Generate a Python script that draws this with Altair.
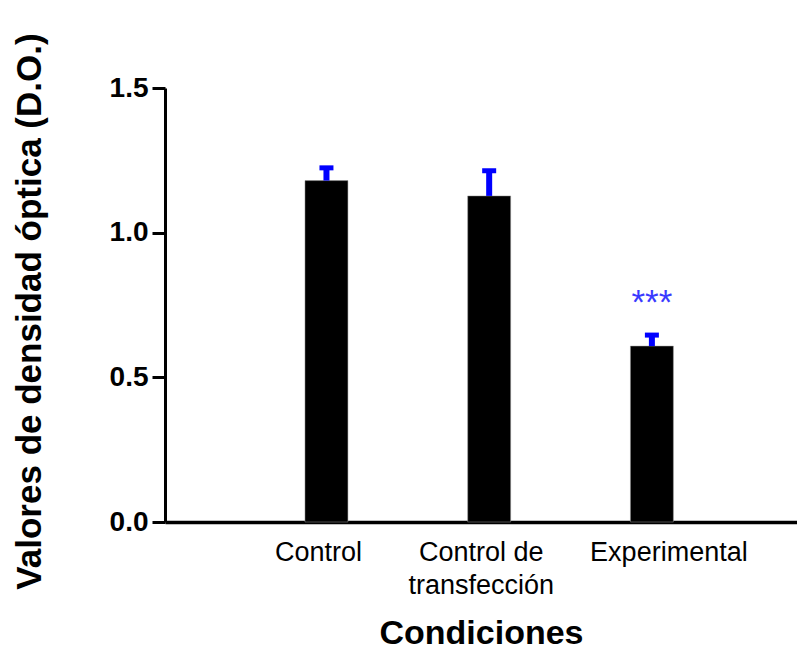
import altair as alt
import pandas as pd

# Data
conditions = ["Control", "Control de\ntransfección", "Experimental"]
means = [1.18, 1.127, 0.608]
err_tops = [1.224, 1.214, 0.646]

sig_condition = ["Experimental"]
sig_text = ["***"]
sig_y = [0.72]

y_ticks = [0.0, 0.5, 1.0, 1.5]

df = pd.DataFrame({"cond": conditions, "mean": means, "err": err_tops})
sig_df = pd.DataFrame({"cond": sig_condition, "txt": sig_text, "y": sig_y})

FONT = "Liberation Sans"

x_scale = alt.Scale(domain=conditions, paddingInner=0.736, paddingOuter=0.81, align=0.531)
y_scale = alt.Scale(domain=[0, 1.5], nice=False, zero=True)

x_enc = alt.X(
    "cond:N",
    scale=x_scale,
    sort=conditions,
    axis=alt.Axis(
        title="Condiciones",
        titleFont=FONT,
        titleFontSize=34,
        titleFontWeight="bold",
        titleColor="black",
        titleX=316,
        titleY=121,
        titleBaseline="alphabetic",
        titleAlign="center",
        labelExpr="split(datum.label, '\\n')",
        labelFont=FONT,
        labelFontSize=27,
        labelColor="black",
        labelAngle=0,
        labelBaseline="alphabetic",
        labelPadding=38,
        labelLineHeight=33,
        labelOverlap=False,
        labelOffset={"condition": {"test": "datum.value === 'Experimental'", "value": 17}, "value": -8},
        ticks=False,
        tickSize=0,
        domainColor="black",
        domainWidth=3.5,
        grid=False,
    ),
)

y_enc = alt.Y(
    "mean:Q",
    scale=y_scale,
    axis=alt.Axis(
        title="Valores de densidad óptica (D.O.)",
        titleFont=FONT,
        titleFontSize=35,
        titleFontWeight="bold",
        titleColor="black",
        titleX=-125,
        titleY=223,
        titleAngle=270,
        titleBaseline="alphabetic",
        titleAlign="center",
        values=y_ticks,
        format=".1f",
        labelFont=FONT,
        labelFontSize=28,
        labelFontWeight="bold",
        labelColor="black",
        labelPadding=4,
        labelBaseline="middle",
        tickSize=13,
        tickWidth=3,
        tickColor="black",
        domainColor="black",
        domainWidth=3,
        grid=False,
    ),
)

bars = alt.Chart(df).mark_bar(color="black", stroke="#999999", strokeWidth=0.5).encode(x=x_enc, y=y_enc)

stems = alt.Chart(df).mark_rule(color="#0000ff", strokeWidth=6, strokeCap="butt").encode(
    x=alt.X("cond:N", scale=x_scale, sort=conditions),
    y=alt.Y("mean:Q", scale=y_scale),
    y2="err:Q",
)

caps = alt.Chart(df).mark_tick(color="#0000ff", thickness=5, size=14, opacity=1).encode(
    x=alt.X("cond:N", scale=x_scale, sort=conditions),
    y=alt.Y("err:Q", scale=y_scale),
)

stars = alt.Chart(sig_df).mark_text(
    color="#3a3aff", font=FONT, fontSize=35, baseline="alphabetic", align="center"
).encode(
    x=alt.X("cond:N", scale=x_scale, sort=conditions),
    y=alt.Y("y:Q", scale=y_scale),
    text="txt:N",
)

chart = (
    alt.layer(bars, stems, caps, stars)
    .properties(
        width=632,
        height=434,
        background="white",
        autosize=alt.AutoSizeParams(type="none"),
        padding={"left": 157, "top": 80, "right": 0, "bottom": 129},
    )
    .configure_view(strokeWidth=0, stroke="transparent")
)

chart.save("out.html", embed_options={"renderer": "svg", "actions": False})
